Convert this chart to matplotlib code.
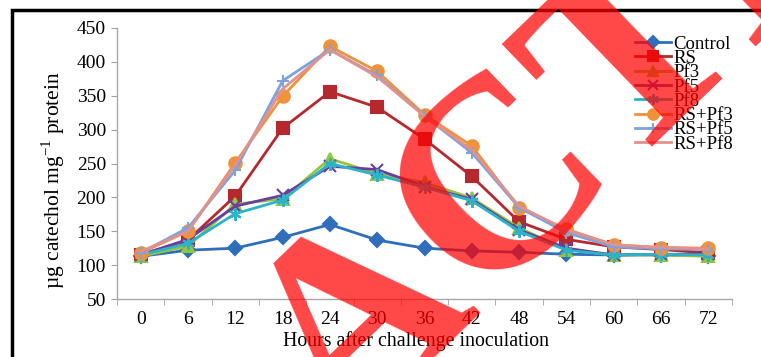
import numpy as np
import matplotlib.pyplot as plt
from matplotlib.patches import Rectangle

plt.rcParams['font.family'] = ['Liberation Serif', 'DejaVu Serif']
plt.rcParams['mathtext.fontset'] = 'custom'
plt.rcParams['mathtext.rm'] = 'Liberation Serif'

hours = [0, 6, 12, 18, 24, 30, 36, 42, 48, 54, 60, 66, 72]

control = [113, 122, 125, 141, 160, 137, 125, 121, 119, 116, 115, 115, 114]
rs = [115, 137, 202, 302, 356, 333, 286, 231, 164, 138, 127, 123, 118]
pf3 = [113, 128, 190, 198, 257, 235, 222, 199, 155, 123, 115, 115, 113]
pf5 = [115, 138, 187, 203, 246, 241, 216, 197, 152, 125, 115, 116, 116]
pf8 = [115, 132, 176, 196, 250, 233, 215, 195, 150, 122, 115, 116, 115]
rs_pf3 = [118, 150, 251, 349, 423, 386, 322, 276, 184, 153, 130, 126, 125]
rs_pf5 = [118, 155, 240, 372, 418, 380, 320, 266, 185, 148, 127, 124, 123]
rs_pf8 = [120, 150, 248, 360, 418, 378, 320, 270, 187, 152, 130, 126, 124]

series = [
    ("Control", control, "#2F6EBA", "D", 7),
    ("RS", rs, "#B5282E", "s", 9),
    ("Pf3", pf3, "#92C540", "^", 8),
    ("Pf5", pf5, "#6A3D9F", "x", 8),
    ("Pf8", pf8, "#2DB3C8", (6, 2, 0), 9),
    ("RS+Pf3", rs_pf3, "#F0923A", "o", 9),
    ("RS+Pf5", rs_pf5, "#7CA3DA", "+", 9),
    ("RS+Pf8", rs_pf8, "#E2918F", None, 0),
]

fig = plt.figure(figsize=(7.61, 3.57), dpi=100)
ax = fig.add_axes([117/761, 1-299/357, (732-117)/761, (299-28)/357])

for name, vals, col, mk, ms in series:
    ax.plot(hours, vals, color=col, lw=2, marker=mk, ms=ms, mew=1.5,
            mec=col, mfc=col, label=name)

ax.set_xlim(-3, 75)
ax.set_ylim(50, 450)
ax.set_yticks(np.arange(50, 451, 50))
ax.set_xticks(hours)
ax.set_xticklabels([str(h) for h in hours])
ax.set_xticks(np.arange(-3, 76, 6), minor=True)
ax.tick_params(axis='x', which='major', length=0, pad=9, labelsize=14)
ax.tick_params(axis='x', which='minor', length=4, color='#A0A0A0', direction='out')
ax.tick_params(axis='y', length=4, color='#A0A0A0', pad=4, labelsize=14)
for s in ['top', 'right']:
    ax.spines[s].set_visible(False)
for s in ['left', 'bottom']:
    ax.spines[s].set_color('#A8A8A8')
    ax.spines[s].set_linewidth(1)

ax.set_xlabel("Hours after challenge inoculation", fontsize=14.3)
ax.set_ylabel(r"µg catechol mg$^{\mathregular{-1}}$ protein", fontsize=15.5)
ax.xaxis.set_label_coords(0.486, -0.118)
ax.yaxis.set_label_coords(-0.0813, 0.439)

ax.legend(loc='upper left', bbox_to_anchor=(635/761, 1-35.5/357),
          bbox_transform=fig.transFigure, frameon=False, fontsize=13.5,
          labelspacing=-0.15, handlelength=1.9, handletextpad=0.15,
          borderpad=0, borderaxespad=0, markerscale=0.85)

fig.patches.append(Rectangle((12/761, -0.2), 1.2, 1.2 - 10.5/357, fill=False,
                             lw=2.5, ec='black', transform=fig.transFigure))

fig.text(365/761, 1-328/357, "RETRACTED", rotation=44, rotation_mode='anchor',
         fontsize=195, fontweight='bold', color='red', alpha=0.72,
         ha='center', va='center', zorder=10)

fig.savefig("out.png", dpi=100)
